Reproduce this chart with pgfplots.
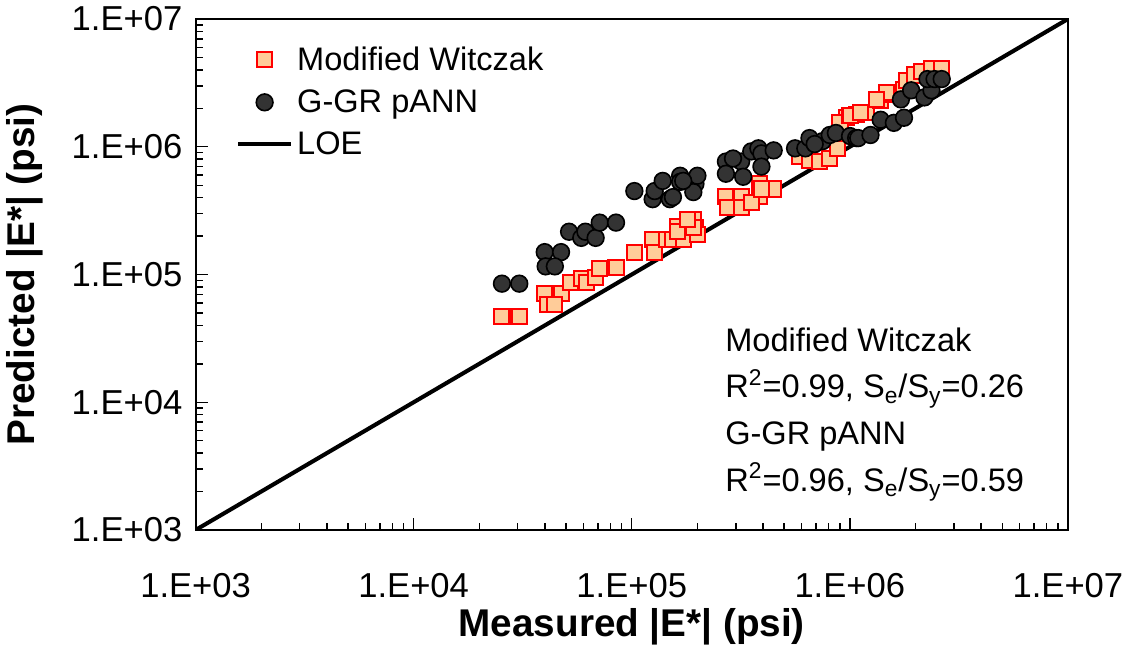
\documentclass[border=0pt]{standalone}
\usepackage{pgfplots}
\pgfplotsset{compat=1.18}
\usepackage{fontspec}
\setmainfont{Liberation Sans}
\definecolor{sqfill}{HTML}{FFCC99}
\definecolor{circfill}{HTML}{333333}
\begin{document}
\begin{tikzpicture}
\begin{axis}[
  scale only axis,
  width=428.5pt, height=251pt,
  xmode=log, ymode=log,
  xmin=1e3, xmax=1e7, ymin=1e3, ymax=1e7,
  axis line style={line width=1pt},
  tick align=inside,
  xtick pos=bottom, ytick pos=left,
  xtick={1e3,1e4,1e5,1e6,1e7},
  ytick={1e3,1e4,1e5,1e6,1e7},
  xticklabels={1.E+03,1.E+04,1.E+05,1.E+06,1.E+07},
  yticklabels={1.E+03,1.E+04,1.E+05,1.E+06,1.E+07},
  major tick length=6pt, minor tick length=3.5pt,
  every tick/.style={black, line width=0.7pt},
  minor tick num=8,
  ticklabel style={font=\fontsize{17}{20}\selectfont},
  xticklabel style={yshift=-18pt},
  yticklabel style={xshift=-3pt},
  xlabel={\textbf{Measured |E*| (psi)}},
  ylabel={\textbf{Predicted |E*| (psi)}},
  label style={font=\fontsize{19}{22}\selectfont},
  xlabel style={yshift=2pt},
  ylabel style={yshift=7pt},
  legend style={draw=none, fill=none, at={(rel axis cs:0.046,0.955)}, anchor=north west,
    font=\fontsize{16}{19}\selectfont, row sep=4pt, inner sep=0pt,
    legend cell align=left},
  legend image code/.code={\draw[mark repeat=2,mark phase=2,#1] plot coordinates {(0pt,0pt) (13pt,0pt) (26pt,0pt)};},
]
\addplot[only marks, mark=square*, mark size=3.7pt, mark options={fill=sqfill, draw=red, line width=1pt}] coordinates {
(25400,47100) (30500,47100)
(39900,70600) (47400,70600) (41200,58700) (44400,58700)
(52200,86300) (58700,92900) (62000,86300) (68300,94700)
(71300,111700) (84700,113700)
(102800,149700) (124700,186700) (127400,149700) (144900,186700) (154500,186700)
(161400,237100) (172200,186700) (191600,269300) (195900,232600) (200000,204600)
(161400,217000) (191600,232600) (180000,269300)
(270300,411000) (317500,411000) (276200,335800) (317500,335800)
(384700,511800) (447600,467100) (384700,411000) (353300,368200) (393300,467100)
(585800,839000) (653000,780200) (726600,766200) (809100,809000) (881800,972000)
(961400,1687000) (1069000,1783000) (1191000,1849000) (901500,1539000)
(1002000,1750000) (1117000,1849000)
(1385000,2305000) (1541000,2572000) (1772000,2818000) (1476000,2668000) (1327000,2349000)
(1811000,3325000) (1972000,3646000) (2128000,3855000) (2368000,4074000) (2638000,4074000)
};
\addlegendentry{Modified Witczak}
\addplot[only marks, mark=*, mark size=4.1pt, mark options={fill=circfill, draw=black, line width=0.8pt}] coordinates {
(25400,84800) (30500,84800)
(39900,149700) (47400,149700) (40300,115800) (44400,115800)
(51600,216200) (58700,193600) (61300,216200) (68300,193600)
(71300,254800) (84700,254800)
(102800,450000) (124700,389000) (127400,450000) (138700,540600) (149600,389000)
(166700,592900) (166700,531000) (195900,511800) (191600,441800) (200000,592900)
(154500,403600) (172200,540600)
(270300,766200) (270300,615000) (317500,766200) (324300,582200)
(353300,920000) (380900,972000) (393300,887000) (393300,699500) (447600,937000) (291300,809000)
(561000,972000) (625000,972000) (653000,1169000) (750400,1107000) (690000,1050000)
(809100,1236000) (863000,1282000) (1002000,1213000) (1069000,1169000) (1093000,1169000)
(1244000,1236000) (1385000,1627000) (1592000,1539000) (1772000,1687000)
(1715000,2349000) (1911000,2767000) (2198000,2435000) (2368000,2767000)
(2270000,3388000) (2446000,3388000) (2638000,3388000)
};
\addlegendentry{G-GR pANN}
\addplot[black, line width=2pt] coordinates {(1e3,1e3) (1e7,1e7)};
\addlegendentry{LOE}
\node[anchor=west, font=\fontsize{16}{19}\selectfont, align=left] at (rel axis cs:0.599,0.226) {Modified Witczak\\[4pt]
R\textsuperscript{2}=0.99, S\textsubscript{e}/S\textsubscript{y}=0.26\\[4pt]
G-GR pANN\\[4pt]
R\textsuperscript{2}=0.96, S\textsubscript{e}/S\textsubscript{y}=0.59};
\end{axis}
\end{tikzpicture}
\end{document}
